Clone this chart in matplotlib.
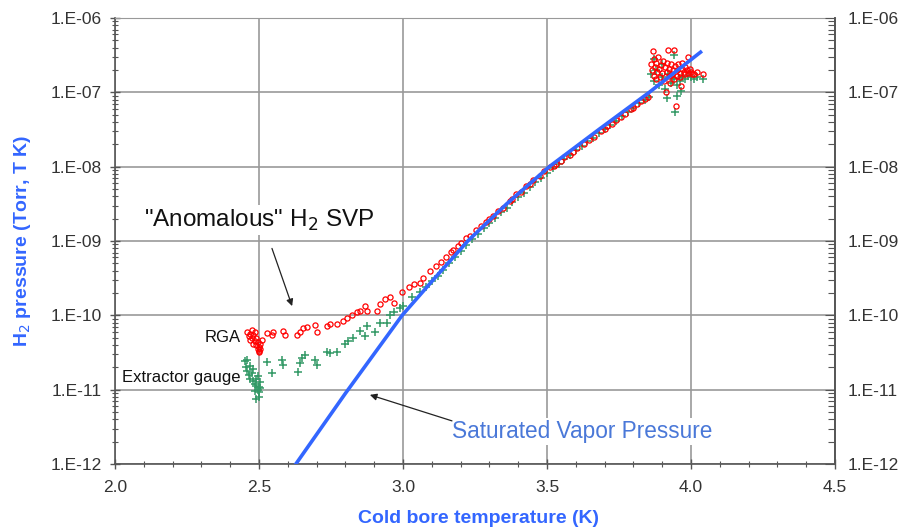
import matplotlib
matplotlib.use("Agg")
import matplotlib.pyplot as plt
import numpy as np
from matplotlib.ticker import FixedLocator, FuncFormatter, LogLocator, MultipleLocator, NullFormatter

plt.rcParams["font.family"] = ["Liberation Sans", "DejaVu Sans"]

# saturated vapor pressure curve (T in K, log10 pressure)
svp_t = [2.628, 2.80, 2.997, 3.11, 3.225, 3.36, 3.508, 3.68, 3.855, 4.033]
svp_log = [-12.0, -11.05, -10.0, -9.5, -9.0, -8.5, -8.0, -7.5, -7.0, -6.46]

# RGA readings (red circles)
rga_t = [
    2.46, 2.465, 2.47, 2.475, 2.48, 2.485, 2.49, 2.495, 2.50, 2.49, 2.48, 2.47, 2.495, 2.50,
    2.505, 2.51, 2.475, 2.485, 2.50, 2.505,
    2.527, 2.545, 2.55, 2.583, 2.59, 2.632, 2.642, 2.653, 2.667, 2.694, 2.701, 2.736, 2.747,
    2.771, 2.793, 2.805, 2.822, 2.84, 2.851, 2.869, 2.874, 2.909, 2.921, 2.938, 2.956, 2.967,
    2.997, 3.02, 3.037, 3.06,
    3.069, 3.093, 3.116, 3.133, 3.15, 3.168, 3.174, 3.19, 3.203, 3.22, 3.231, 3.255, 3.27,
    3.289, 3.30, 3.313, 3.33, 3.347, 3.37, 3.38, 3.394, 3.41, 3.428, 3.44, 3.451, 3.475,
    3.49, 3.509, 3.523, 3.532, 3.547, 3.56, 3.581, 3.59, 3.605, 3.628, 3.645, 3.663, 3.686,
    3.70, 3.709, 3.727, 3.74, 3.756, 3.77, 3.791, 3.80, 3.814, 3.826, 3.84, 3.849,
    3.862, 3.865, 3.868, 3.87, 3.872, 3.875, 3.878, 3.88, 3.883, 3.886, 3.89, 3.893, 3.896,
    3.90, 3.903, 3.906, 3.91, 3.913, 3.915, 3.918, 3.919, 3.922, 3.925, 3.928, 3.93, 3.933,
    3.936, 3.94, 3.942, 3.945, 3.948, 3.95, 3.953, 3.956, 3.96, 3.963, 3.965, 3.968, 3.97,
    3.975, 3.978, 3.98, 3.985, 3.988, 3.99, 3.995, 4.0, 4.005, 4.01, 4.02, 4.04,
]
rga_log = [
    -10.22, -10.28, -10.25, -10.30, -10.27, -10.35, -10.40, -10.45, -10.48, -10.30, -10.38,
    -10.33, -10.36, -10.42, -10.38, -10.33, -10.20, -10.23, -10.50, -10.45,
    -10.24, -10.27, -10.22, -10.21, -10.26, -10.27, -10.23, -10.17, -10.16, -10.13, -10.23,
    -10.15, -10.12, -10.12, -10.08, -10.03, -9.99, -9.96, -9.94, -9.87, -9.94, -9.94, -9.85,
    -9.78, -9.76, -9.83, -9.69, -9.62, -9.58, -9.56,
    -9.50, -9.40, -9.33, -9.28, -9.21, -9.15, -9.12, -9.07, -9.03, -8.96, -8.93, -8.85, -8.80,
    -8.74, -8.70, -8.66, -8.60, -8.55, -8.46, -8.43, -8.37, -8.34, -8.26, -8.24, -8.18, -8.12,
    -8.06, -8.01, -7.99, -7.96, -7.93, -7.87, -7.84, -7.80, -7.75, -7.70, -7.64, -7.60, -7.52,
    -7.49, -7.45, -7.42, -7.37, -7.33, -7.29, -7.22, -7.21, -7.16, -7.12, -7.09, -7.06,
    -6.62, -6.70, -6.45, -6.78, -6.55, -6.66, -6.82, -6.60, -6.72, -6.52, -6.68, -6.80, -6.63,
    -6.74, -6.58, -6.85, -6.66, -6.99, -6.72, -6.60, -6.43, -6.78, -6.68, -6.88, -6.62, -6.75,
    -6.70, -6.82, -6.43, -6.65, -7.19, -6.78, -6.70, -6.62, -6.74, -6.80, -6.92, -6.68, -6.60,
    -6.72, -6.66, -6.76, -6.70, -6.52, -6.74, -6.68, -6.72, -6.75, -6.76, -6.73, -6.76,
]

# extractor gauge readings (green crosses)
ext_t = [
    2.45, 2.455, 2.46, 2.465, 2.47, 2.475, 2.48, 2.485, 2.49, 2.495, 2.50, 2.50, 2.505, 2.49,
    2.48, 2.47, 2.495, 2.505, 2.485, 2.46, 2.50, 2.49,
    2.527, 2.545, 2.58, 2.583, 2.635, 2.642, 2.649, 2.66, 2.694, 2.701, 2.736, 2.747, 2.771,
    2.799, 2.81, 2.828, 2.851, 2.869, 2.874, 2.903, 2.921, 2.944, 2.956, 2.967, 2.99, 3.0,
    3.03, 3.06,
    3.08, 3.10, 3.12, 3.14, 3.16, 3.18, 3.20, 3.22, 3.24, 3.26, 3.28, 3.30, 3.32, 3.34, 3.36,
    3.38, 3.40, 3.42, 3.44, 3.46, 3.48, 3.50, 3.52, 3.54, 3.56, 3.58, 3.60, 3.62, 3.64, 3.66,
    3.68, 3.70, 3.72, 3.74, 3.76, 3.78, 3.80, 3.82, 3.84, 3.855,
    3.86, 3.87, 3.88, 3.89, 3.90, 3.91, 3.92, 3.93, 3.94, 3.95, 3.96, 3.97, 3.98, 3.99, 4.0,
    4.01, 4.02, 4.04, 3.95, 3.915, 3.945, 3.965, 3.87, 3.90, 3.94,
]
ext_log = [
    -10.62, -10.70, -10.75, -10.80, -10.85, -10.78, -10.88, -10.92, -10.95, -11.00, -10.97,
    -11.03, -10.90, -10.85, -10.72, -10.68, -10.82, -10.98, -11.02, -10.60, -11.10, -11.13,
    -10.63, -10.78, -10.60, -10.67, -10.76, -10.64, -10.58, -10.54, -10.60, -10.67, -10.50,
    -10.51, -10.50, -10.39, -10.35, -10.30, -10.21, -10.28, -10.14, -10.23, -10.10, -10.10,
    -9.99, -9.96, -9.90, -9.87, -9.76, -9.69,
    -9.62, -9.54, -9.47, -9.39, -9.30, -9.21, -9.13, -9.05, -8.98, -8.90, -8.83, -8.76, -8.69,
    -8.61, -8.55, -8.48, -8.41, -8.35, -8.28, -8.21, -8.15, -8.08, -8.02, -7.96, -7.90, -7.84,
    -7.78, -7.72, -7.66, -7.61, -7.55, -7.49, -7.44, -7.38, -7.32, -7.27, -7.21, -7.15, -7.10,
    -7.06,
    -6.75, -6.85, -6.70, -6.90, -6.80, -6.95, -6.75, -6.88, -6.82, -6.90, -6.85, -6.80, -6.82,
    -6.78, -6.80, -6.82, -6.80, -6.82, -7.05, -7.08, -7.27, -6.98, -6.55, -6.62, -6.50,
]

x_ticks = [2.0, 2.5, 3.0, 3.5, 4.0, 4.5]
y_ticks = [1e-12, 1e-11, 1e-10, 1e-9, 1e-8, 1e-7, 1e-6]

BLUE = "#3366ff"
TXT = "#333333"


def sci_label(v, pos):
    return f"1.E{int(round(np.log10(v))):03d}"


def log_axis(axis):
    axis.set_major_locator(FixedLocator(y_ticks))
    axis.set_minor_locator(LogLocator(base=10, subs=np.arange(2, 10), numticks=10))
    axis.set_major_formatter(FuncFormatter(sci_label))
    axis.set_minor_formatter(NullFormatter())


fig = plt.figure(figsize=(9.12, 5.29), dpi=100)
ax = fig.add_axes([0.1261, 0.1229, 0.7895, 0.8431])

ax.plot(ext_t, 10.0 ** np.array(ext_log), linestyle="none", marker="+", markersize=6,
        markeredgewidth=1.1, color="#339966", zorder=3)
ax.plot(rga_t, 10.0 ** np.array(rga_log), linestyle="none", marker="o", markersize=3.7,
        markerfacecolor="none", markeredgewidth=0.9, markeredgecolor="#ff0000", zorder=4)
ax.plot(svp_t, 10.0 ** np.array(svp_log), color=BLUE, linewidth=2.6, zorder=5)

ax.set_yscale("log")
ax.set_xlim(2.0, 4.5)
ax.set_ylim(1e-12, 1e-6)
ax.set_xticks(x_ticks)
ax.set_xticklabels([f"{t:.1f}" for t in x_ticks])
ax.xaxis.set_minor_locator(MultipleLocator(0.1))
log_axis(ax.yaxis)
ax.grid(True, which="major", color="#999999", linewidth=1.2, zorder=0)
ax.set_axisbelow(True)

ax.tick_params(which="both", direction="inout", colors="#555555", labelcolor=TXT, labelsize=12.5)
ax.tick_params(which="major", length=7, width=1)
ax.tick_params(which="minor", length=5, width=0.8)
ax.tick_params(axis="x", pad=8)
ax.tick_params(axis="y", pad=6)
for side in ("left", "bottom", "right"):
    ax.spines[side].set_color("#555555")
    ax.spines[side].set_linewidth(1.2)
ax.spines["top"].set_color("#999999")

ax2 = ax.twinx()
ax2.set_yscale("log")
ax2.set_ylim(1e-12, 1e-6)
log_axis(ax2.yaxis)
ax2.tick_params(which="both", direction="in", colors="#555555", labelcolor=TXT, labelsize=12.5, pad=9)
ax2.tick_params(which="major", length=7)
ax2.tick_params(which="minor", length=5, width=0.8)
for side in ("left", "bottom", "top"):
    ax2.spines[side].set_visible(False)
ax2.spines["right"].set_color("#555555")
ax2.spines["right"].set_linewidth(1.2)

ax.set_xlabel("Cold bore temperature (K)", color=BLUE, fontsize=14, fontweight="bold", va="center")
ax.xaxis.set_label_coords(0.505, -0.122)
ax.set_ylabel("H$_2$ pressure (Torr, T K)", color=BLUE, fontsize=14, fontweight="bold", va="center")
ax.yaxis.set_label_coords(-0.129, 0.5)

box = dict(facecolor="white", edgecolor="none", pad=1.5)
arrow = dict(arrowstyle="-|>", color="#222222", lw=0.9, mutation_scale=10, shrinkA=0, shrinkB=0)

ax.text(2.5, 10 ** -8.72, '"Anomalous" H$_2$ SVP', fontsize=17.5, color="#111111",
        ha="center", va="center", bbox=box, zorder=6)
ax.annotate("", xy=(2.615, 10 ** -9.876), xytext=(2.545, 10 ** -9.10), arrowprops=arrow, zorder=6)

ax.text(2.435, 10 ** -10.30, "RGA", fontsize=12, color="#111111", ha="right", va="center", zorder=6)
ax.text(2.435, 10 ** -10.84, "Extractor gauge", fontsize=12, color="#111111",
        ha="right", va="center", zorder=6)

ax.text(3.17, 10 ** -11.56, "Saturated Vapor Pressure", fontsize=16.3, color="#4a78d8",
        ha="left", va="center", bbox=box, zorder=6)
ax.annotate("", xy=(2.885, 10 ** -11.07), xytext=(3.17, 10 ** -11.42), arrowprops=arrow, zorder=6)

fig.savefig("out.png", dpi=100)
